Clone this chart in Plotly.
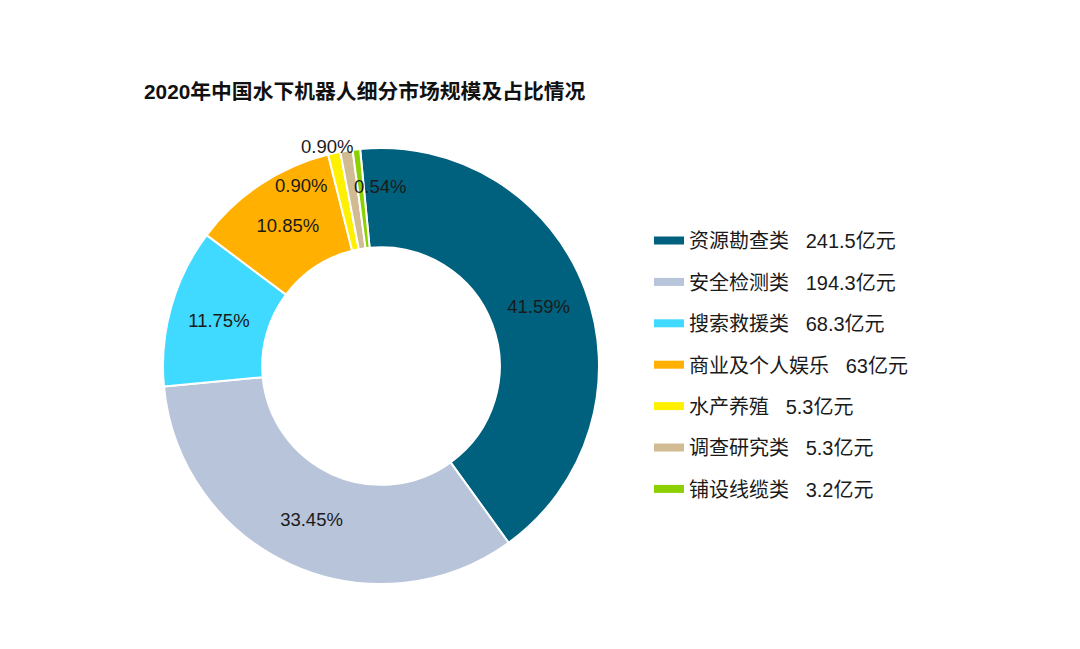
import plotly.graph_objects as go

categories = ["资源勘查类", "安全检测类", "搜索救援类", "商业及个人娱乐", "水产养殖", "调查研究类", "铺设线缆类"]
amounts = [241.5, 194.3, 68.3, 63, 5.3, 5.3, 3.2]
amount_labels = ["241.5", "194.3", "68.3", "63", "5.3", "5.3", "3.2"]
percent_labels = ["41.59%", "33.45%", "11.75%", "10.85%", "0.90%", "0.90%", "0.54%"]
colors = ["#00617F", "#B7C4DA", "#40D9FF", "#FFB000", "#FFF000", "#D0BB92", "#8CD000"]

FONT = "Liberation Sans, Noto Sans CJK SC, sans-serif"
W, H = 1080, 649
OFF = 8  # page body margin

def px(x):
    return (x - OFF) / W

def py(y):
    return 1 - (y - OFF) / H

big_text = [p if i < 4 else "" for i, p in enumerate(percent_labels)]

fig = go.Figure()
fig.add_trace(go.Pie(
    labels=categories,
    values=amounts,
    text=big_text,
    textinfo="text",
    textposition="inside",
    insidetextorientation="horizontal",
    textfont=dict(size=18.5, color="#1a1a1a", family=FONT),
    marker=dict(colors=colors, line=dict(color="white", width=2)),
    hole=0.545,
    sort=False,
    direction="clockwise",
    rotation=-5.5,
    showlegend=False,
    hoverinfo="label+value+text",
    domain=dict(x=[px(163), px(599)], y=[py(584), py(148)]),
))

for i, (c, col) in enumerate(zip(categories, colors)):
    fig.add_trace(go.Scatter(
        x=[None], y=[None], mode="lines",
        line=dict(color=col, width=8),
        name=f"{c}\u00a0\u00a0\u00a0{amount_labels[i]}亿元",
        legendgroup=f"g{i}",
        showlegend=True,
        hoverinfo="skip",
    ))

# small-slice labels
small_pos = {4: (301, 185), 5: (327, 147), 6: (380, 186)}
for i, (lx, ly) in small_pos.items():
    fig.add_annotation(
        x=px(lx), y=py(ly), xref="paper", yref="paper",
        text=percent_labels[i], showarrow=False,
        font=dict(size=18.5, color="#1a1a1a", family=FONT),
        xanchor="center", yanchor="middle",
    )

fig.add_annotation(
    x=px(142), y=py(92), xref="paper", yref="paper",
    text="<b>2020年中国水下机器人细分市场规模及占比情况</b>",
    showarrow=False, xanchor="left", yanchor="middle",
    font=dict(size=20.8, color="#111111", family=FONT),
)

fig.update_layout(
    width=W, height=H,
    margin=dict(l=0, r=0, t=0, b=0),
    paper_bgcolor="white", plot_bgcolor="white",
    xaxis=dict(visible=False), yaxis=dict(visible=False),
    legend=dict(
        x=px(649), y=py(221), xanchor="left", yanchor="top",
        font=dict(size=20, color="#1a1a1a", family=FONT),
        tracegroupgap=12.4,
        itemwidth=30,
        bgcolor="rgba(0,0,0,0)",
    ),
    font=dict(family=FONT),
)

fig.write_html("out.html")
